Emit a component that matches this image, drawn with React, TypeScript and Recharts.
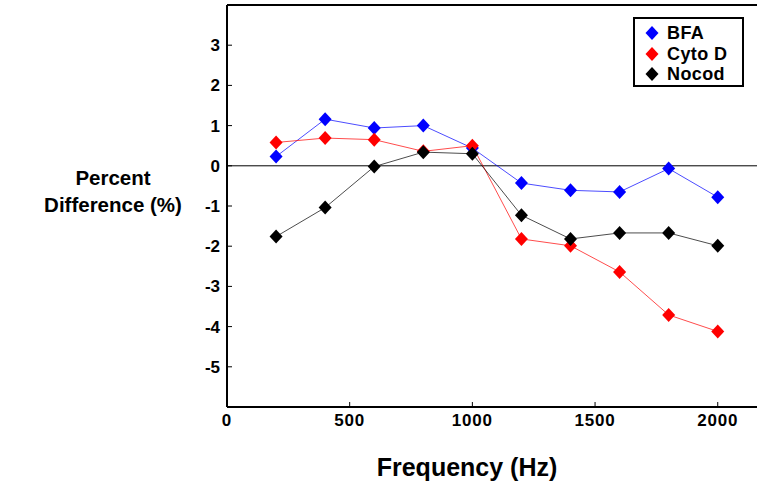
import { LineChart, Line, XAxis, YAxis, ReferenceLine } from 'recharts';

const freqs = [200, 400, 600, 800, 1000, 1200, 1400, 1600, 1800, 2000];
const bfa = [0.23, 1.16, 0.94, 1.0, 0.44, -0.43, -0.61, -0.65, -0.07, -0.78];
const cytoD = [0.58, 0.69, 0.65, 0.36, 0.5, -1.82, -1.99, -2.64, -3.71, -4.12];
const nocod = [-1.76, -1.04, -0.02, 0.34, 0.3, -1.23, -1.82, -1.67, -1.67, -1.99];
const xTicks = [0, 500, 1000, 1500, 2000];
const yTicks = [-5, -4, -3, -2, -1, 0, 1, 2, 3];

const series = [
  { key: 'bfa', name: 'BFA', color: '#0000ff' },
  { key: 'cytoD', name: 'Cyto D', color: '#ff0000' },
  { key: 'nocod', name: 'Nocod', color: '#000000' },
];

const data = freqs.map((f, i) => ({ f, bfa: bfa[i], cytoD: cytoD[i], nocod: nocod[i] }));

const font = 'Arial, "Liberation Sans", sans-serif';

const diamond = (color: string) => (props: any) => {
  const { cx, cy } = props;
  if (cx == null || cy == null) return <g />;
  return (
    <polygon
      points={`${cx},${cy - 7} ${cx + 6.5},${cy} ${cx},${cy + 7} ${cx - 6.5},${cy}`}
      fill={color}
      stroke="none"
    />
  );
};

const XTick = (props: any) => {
  const { x, y, payload } = props;
  return (
    <g>
      <line x1={x} x2={x} y1={y} y2={y - 5} stroke="#000" strokeWidth={1} />
      <text x={x} y={y + 19} textAnchor="middle" fontFamily={font} fontWeight="bold" fontSize={17} letterSpacing={0.8} fill="#000">
        {payload.value}
      </text>
    </g>
  );
};

const YTick = (props: any) => {
  const { x, y, payload } = props;
  return (
    <g>
      <line x1={x} x2={x + 5} y1={y} y2={y} stroke="#000" strokeWidth={1} />
      <text x={x - 7} y={y + 6} textAnchor="end" fontFamily={font} fontWeight="bold" fontSize={17} fill="#000">
        {payload.value}
      </text>
    </g>
  );
};

// legend sits over the plot, top right
const LegendBox = () => (
  <div
    style={{
      position: 'absolute',
      left: 633,
      top: 17,
      width: 107,
      height: 66,
      border: '2px solid #000',
      background: '#fff',
      fontFamily: font,
      fontWeight: 'bold',
      fontSize: 18,
      letterSpacing: 0.4,
      boxSizing: 'content-box',
    }}
  >
    {series.map((s, i) => (
      <div key={s.key} style={{ position: 'absolute', left: 0, top: 4 + i * 20.5, display: 'flex', alignItems: 'center', height: 20 }}>
        <svg width={14} height={14} style={{ marginLeft: 10, marginRight: 8 }}>
          <polygon points="7,0 13.5,7 7,14 0.5,7" fill={s.color} />
        </svg>
        <span style={{ lineHeight: '20px' }}>{s.name}</span>
      </div>
    ))}
  </div>
);

export default function App() {
  return (
    <div style={{ position: 'absolute', left: 0, top: 0, width: 757, height: 484, background: '#fff' }}>
      <LineChart width={757} height={484} data={data} margin={{ top: 5, right: 0, left: 0, bottom: 0 }}>
        <XAxis
          dataKey="f"
          type="number"
          domain={[0, 2160]}
          ticks={xTicks}
          height={77}
          tickSize={0}
          tickMargin={0}
          tickLine={false}
          tick={<XTick />}
          axisLine={{ stroke: '#000', strokeWidth: 2 }}
          label={(p: any) => (
            <text x={467} y={476} textAnchor="middle" fontFamily={font} fontWeight="bold" fontSize={25} fill="#000">
              Frequency (Hz)
            </text>
          )}
        />
        <YAxis
          type="number"
          domain={[-6, 4]}
          ticks={yTicks}
          width={227}
          tickSize={0}
          tickMargin={0}
          tickLine={false}
          tick={<YTick />}
          axisLine={{ stroke: '#000', strokeWidth: 2 }}
          label={(p: any) => (
            <text fontFamily={font} fontWeight="bold" fontSize={20.5} fill="#000" textAnchor="middle">
              <tspan x={113} y={185}>Percent</tspan>
              <tspan x={113} y={212}>Difference (%)</tspan>
            </text>
          )}
        />
        <ReferenceLine y={0} stroke="#000" strokeWidth={1} />
        <ReferenceLine y={4} stroke="#000" strokeWidth={2} />
        {series.map((s) => (
          <Line
            key={s.key}
            dataKey={s.key}
            name={s.name}
            stroke={s.color}
            strokeWidth={1}
            strokeOpacity={0.7}
            dot={diamond(s.color)}
            activeDot={false}
            isAnimationActive={false}
          />
        ))}
      </LineChart>
      <LegendBox />
    </div>
  );
}
